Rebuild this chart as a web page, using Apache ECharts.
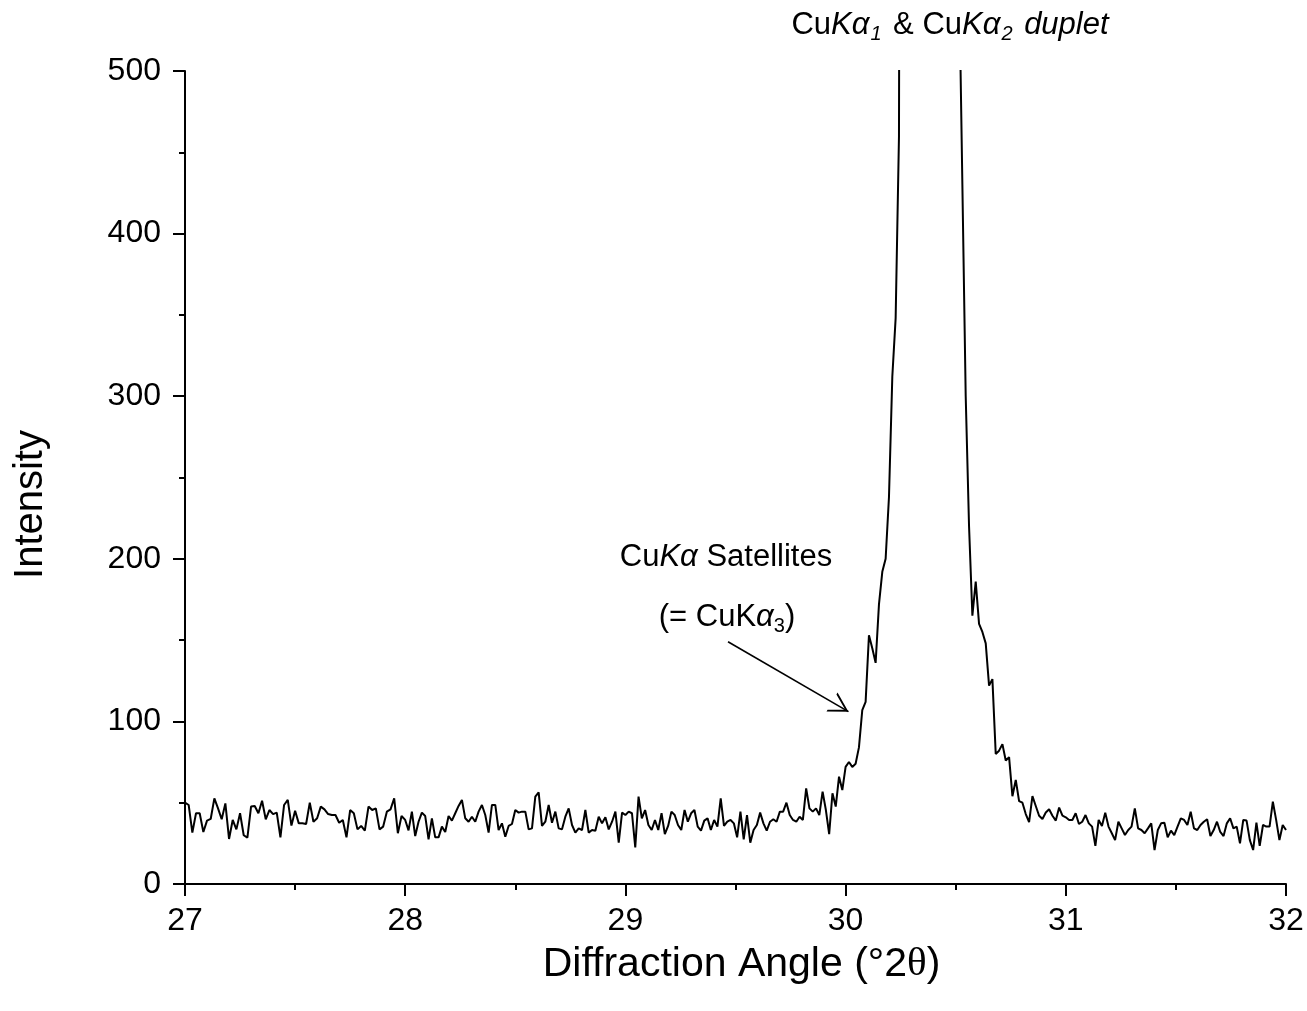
<!DOCTYPE html>
<html>
<head>
<meta charset="utf-8">
<script src="https://cdn.jsdelivr.net/npm/echarts@6/dist/echarts.min.js"></script>
<style>
html,body{margin:0;padding:0;background:#fff;}
#chart{width:1307px;height:1011px;}
</style>
</head>
<body>
<div id="chart"></div>
<script>
// Intensity readings, one array per degree of 2θ (evenly spaced within each degree)
const seg27 = [50,48.6,31.6,43.5,43.5,32,39,40,52.7,46.5,39.8,49.6,27.7,39.4,33.6,43.5,30,28.5,47.6,48,43.5,51.2,39.8,45.5,43,43.9,28.7,48.6,51.7,35.9,45.1,37.3,37.3,36.9,50,38.3,40.4,47.6,45.9,43,42.4,42.4,37.7,39.4,28.7,45.5,43.5,33.6,35.7,32.8,47.6,45.5,46.5,33.6,35.3,44.5,45.9,52.7,31.2,41.8];
const seg28 = [39.4,33,44.5,29.5,38.3,43.9,41.8,27.5,40.4,28.7,28.7,35.3,32,41.8,39,43.5,48,51.7,40.4,38.3,41.4,38.3,44.5,48.6,42.4,31.6,48.6,48.6,33.2,37.3,29.1,35.7,36.9,45.5,43.9,44.5,44.5,33.6,34.2,53.7,56.4,35.7,38.3,48.6,37.7,44.5,34.2,33.6,41.4,46.5,36.3,31.6,34.2,33.2,45.5,31.6,33.2,32.8,41.4,37.3,41,33.6,38.3,44.5,25.4,43.9];
const seg29 = [42.4,44.5,43.5,22.5,53.7,40.4,45.5,36.3,33.2,39.4,33.2,43.5,30.7,35.7,44.5,42.4,36.3,33.2,45.5,38.3,43.5,45.5,35.3,32.8,39,40.4,33.2,39.4,35.3,52.7,35.7,38.3,39.4,37.3,28.7,44.5,27.5,42.4,25.4,33.2,36.3,43.9,37.3,32.8,38.3,39.8,38.3,44.5,44.5,50,42.4,39.4,38.3,41.4,39.4,58.8,46.5,44.5,46.5,42.4,56.8,45.5,30.7,55.8,47.6,66,57.8];
const seg30 = [72,75,72,74,84,107,112,153,145,136,172,192,200,238,312,348,460,1500,3500,6000,9000,12000,13000,11000,8000,6500,7000,6500,5000,3500,2500,1800,1300,900,560,430,300,220,165,186,160,155,148,122,126,80,82,86,76,78,54,64,51,50,43,38,54,48,42,40,44,46,42,39,47,42];
const seg31 = [41,39.4,39.4,43.5,36.9,38.3,42.4,37.3,35.3,23.4,39.4,35.7,43.9,35.3,31.2,27,38.3,34.2,30.1,33.2,35.3,46.5,34.2,33.2,31.2,34.2,37.3,20.9,33.2,37.3,37.7,28.7,32.8,30.1,35.3,40.4,39.4,36.3,44.5,34.2,33.2,36.3,38.3,39.8,29.5,33.2,38.3,32,29.5,37.3,40.4,34.2,35.3,25,39.4,39,27,20.9,37.7,23.4,36.3,35.3,35.3,50.6,39.4,27,36.3,33.2];
const segStarts = [27, 28, 29, 30, 31];
const segments = [seg27, seg28, seg29, seg30, seg31];

const xTicks = [27, 28, 29, 30, 31, 32];
const yTicks = [0, 100, 200, 300, 400, 500];

// Arrow annotation (data coordinates): from label towards satellite shoulder
const arrowFrom = [29.466, 149];
const arrowTo = [30.013, 106];

const data = [];
segments.forEach((seg, k) => {
  const last = k === segments.length - 1;
  const n = last ? seg.length - 1 : seg.length;
  seg.forEach((v, i) => data.push([segStarts[k] + i / n, v]));
});

const FONT = "'Liberation Sans', Arial, sans-serif";
const chart = echarts.init(document.getElementById('chart'), null, {renderer: 'canvas'});

const axisCommon = {
  axisLine: {show: true, onZero: false, lineStyle: {color: '#000', width: 2}},
  axisTick: {show: true, inside: false, length: 12, lineStyle: {color: '#000', width: 2}},
  minorTick: {show: true, splitNumber: 2, length: 6, lineStyle: {color: '#000', width: 2}},
  splitLine: {show: false},
  axisLabel: {color: '#000', fontFamily: FONT, fontSize: 32}
};

// open "V" arrow head; the trailing moveTo keeps the tip at the symbol centre
const arrowHead = 'path://M50,0 L100,86 L90,86 L50,17 L10,86 L0,86 Z M50,-86 L50,-86';

chart.setOption({
  animation: false,
  backgroundColor: '#fff',
  grid: {left: 185, right: 21, top: 71, bottom: 127, containLabel: false},
  xAxis: Object.assign({}, axisCommon, {
    type: 'value', min: xTicks[0], max: xTicks[xTicks.length - 1], interval: 1,
    name: '{n|Diffraction Angle (°2}{t|θ}{n|)}',
    nameLocation: 'middle', nameGap: 60,
    nameTextStyle: {color: '#000', fontFamily: FONT, fontSize: 41, padding: [0, 0, 0, 12],
      rich: {n: {fontFamily: FONT, fontSize: 41, color: '#000'},
             t: {fontFamily: "'Liberation Serif', 'Times New Roman', serif", fontSize: 41, color: '#000'}}},
    axisLabel: Object.assign({}, axisCommon.axisLabel, {margin: 21})
  }),
  yAxis: Object.assign({}, axisCommon, {
    type: 'value', min: yTicks[0], max: yTicks[yTicks.length - 1], interval: 100,
    name: 'Intensity', nameLocation: 'middle', nameGap: 134, nameRotate: 90,
    nameTextStyle: {color: '#000', fontFamily: FONT, fontSize: 40, padding: [0, 54, 0, 0]},
    axisLabel: Object.assign({}, axisCommon.axisLabel, {margin: 24})
  }),
  series: [{
    type: 'line',
    data: data,
    showSymbol: false,
    symbol: 'none',
    clip: true,
    lineStyle: {color: '#000', width: 2},
    silent: true,
    markLine: {
      silent: true,
      animation: false,
      label: {show: false},
      lineStyle: {color: '#000', width: 1.6, type: 'solid'},
      symbol: ['none', arrowHead],
      symbolSize: [22, 38],
      data: [[{coord: arrowFrom}, {coord: arrowTo}]]
    }
  }],
  graphic: [
    {
      type: 'text', x: 950, y: 25,
      style: {
        text: '{n|Cu}{i|Kα}{s|1}{n| & Cu}{i|Kα}{s|2}{i| duplet}',
        align: 'center', verticalAlign: 'middle',
        rich: {
          n: {fontFamily: FONT, fontSize: 31, fill: '#000', lineHeight: 38, verticalAlign: 'middle'},
          i: {fontFamily: FONT, fontSize: 31, fontStyle: 'italic', fill: '#000', lineHeight: 38, verticalAlign: 'middle'},
          s: {fontFamily: FONT, fontSize: 20, fontStyle: 'italic', fill: '#000', lineHeight: 38, verticalAlign: 'bottom', padding: [0, 3, 0, 1]}
        }
      }
    },
    {
      type: 'text', x: 726, y: 557,
      style: {
        text: '{n|Cu}{i|Kα}{n| Satellites}',
        align: 'center', verticalAlign: 'middle',
        rich: {
          n: {fontFamily: FONT, fontSize: 31, fill: '#000'},
          i: {fontFamily: FONT, fontSize: 31, fontStyle: 'italic', fill: '#000'}
        }
      }
    },
    {
      type: 'text', x: 727, y: 617,
      style: {
        text: '{n|(= CuK}{i|α}{s|3}{n|)}',
        align: 'center', verticalAlign: 'middle',
        rich: {
          n: {fontFamily: FONT, fontSize: 31, fill: '#000', lineHeight: 38, verticalAlign: 'middle'},
          i: {fontFamily: FONT, fontSize: 31, fontStyle: 'italic', fill: '#000', lineHeight: 38, verticalAlign: 'middle'},
          s: {fontFamily: FONT, fontSize: 20, fill: '#000', lineHeight: 38, verticalAlign: 'bottom'}
        }
      }
    }
  ]
});
</script>
</body>
</html>
